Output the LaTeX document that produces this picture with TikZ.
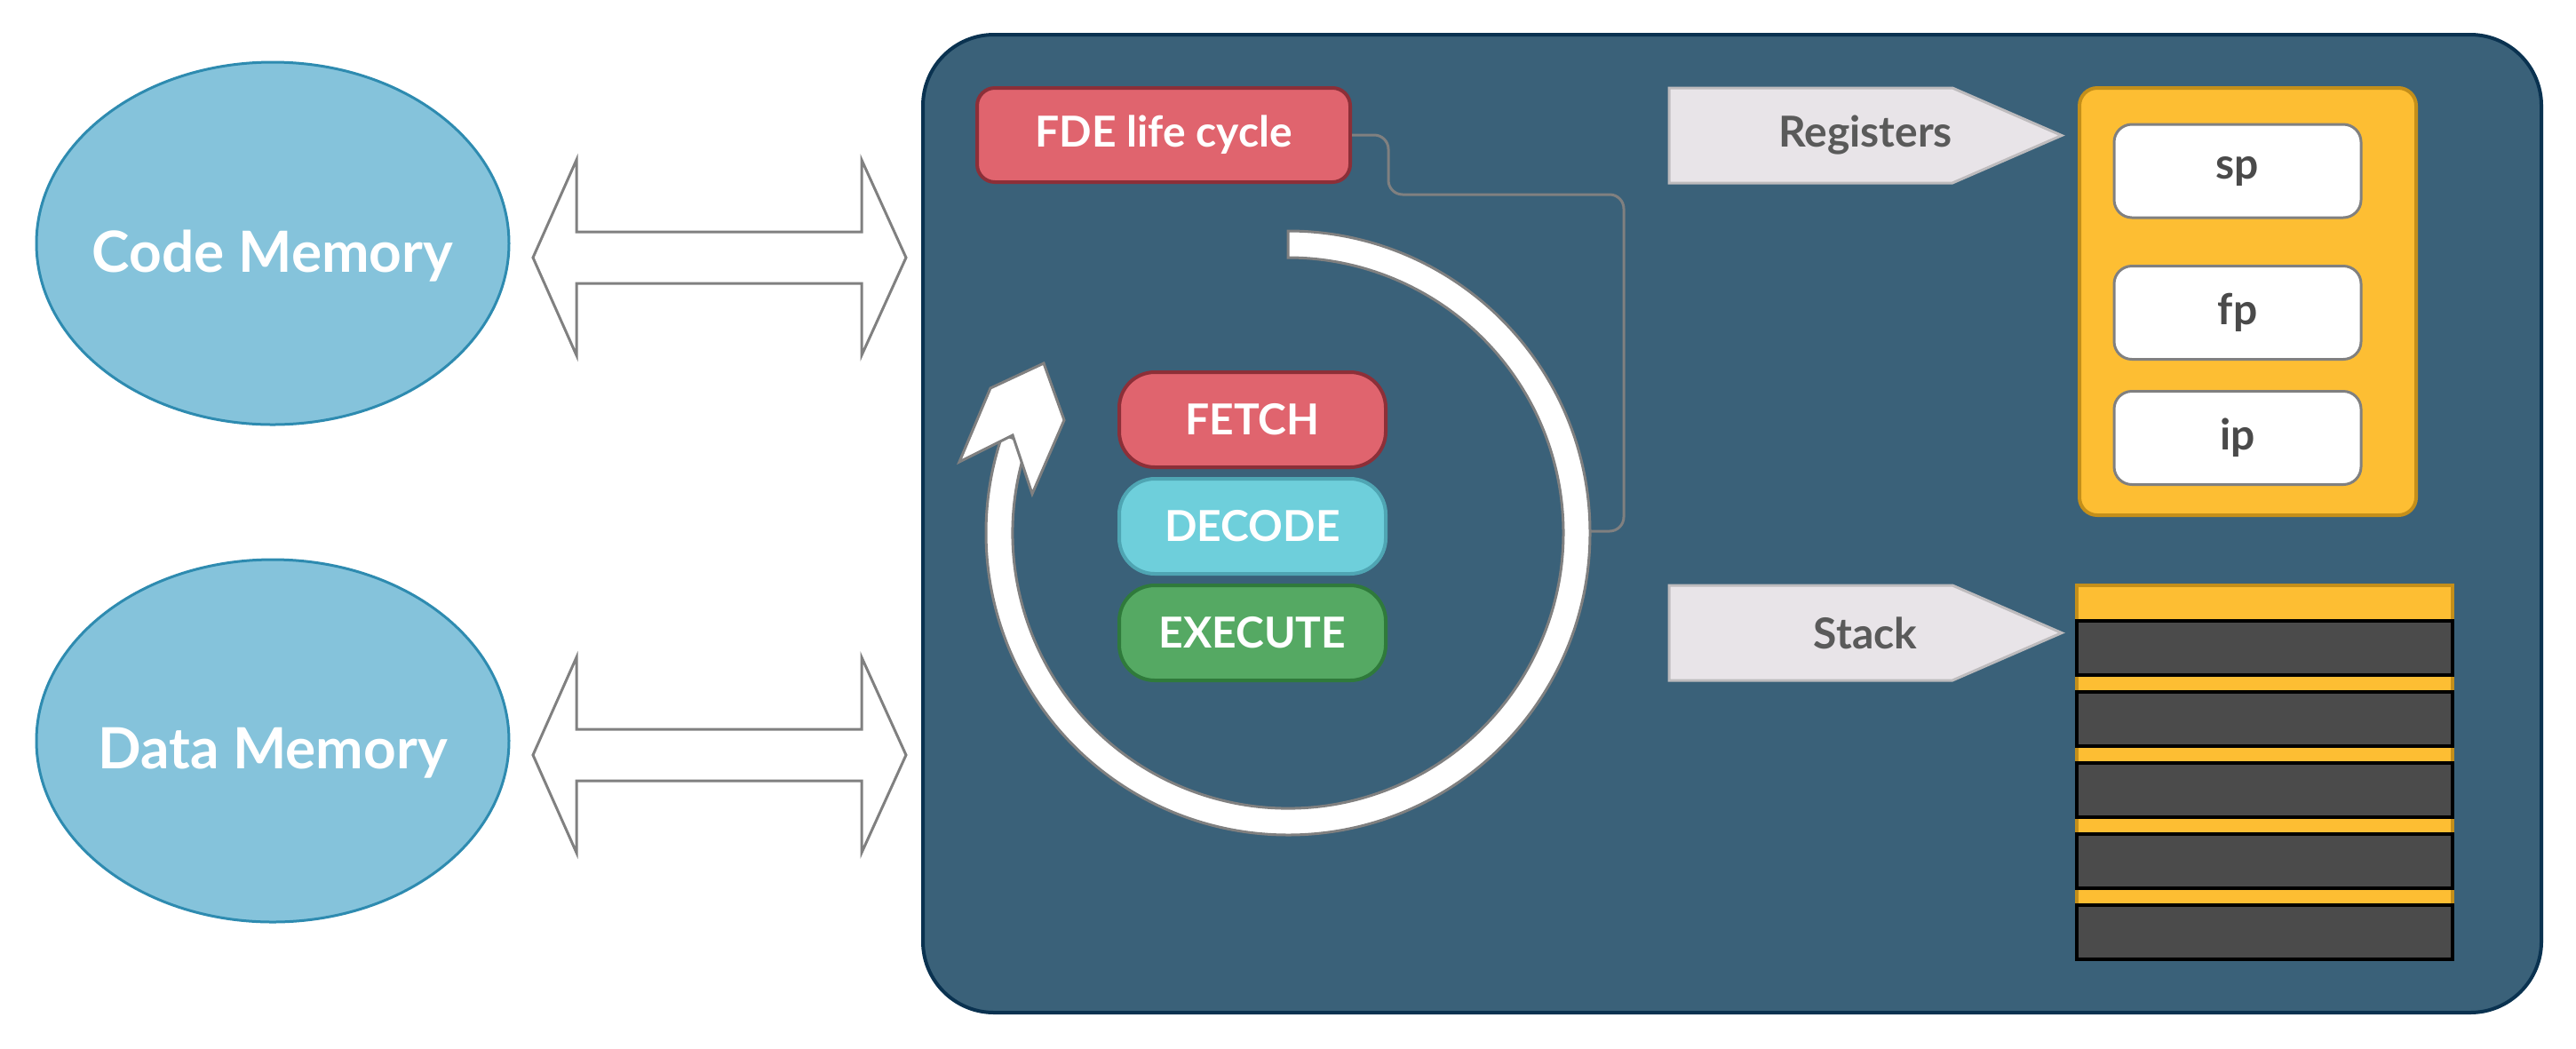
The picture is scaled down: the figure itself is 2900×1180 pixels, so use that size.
\documentclass[tikz,border=0pt]{standalone}
\usepackage{fontspec}
\setmainfont{Lato}
\usetikzlibrary{shapes.geometric}

\definecolor{panelfill}{RGB}{58,97,121}
\definecolor{paneldraw}{RGB}{10,50,80}
\definecolor{memfill}{RGB}{133,195,219}
\definecolor{memdraw}{RGB}{46,139,176}
\definecolor{redfill}{RGB}{224,100,110}
\definecolor{reddraw}{RGB}{140,47,56}
\definecolor{cyanfill}{RGB}{110,207,219}
\definecolor{cyandraw}{RGB}{79,165,179}
\definecolor{greenfill}{RGB}{85,169,99}
\definecolor{greendraw}{RGB}{47,122,59}
\definecolor{tagfill}{RGB}{232,228,232}
\definecolor{tagdraw}{RGB}{189,187,189}
\definecolor{tagtext}{RGB}{90,90,90}
\definecolor{yellowfill}{RGB}{253,190,51}
\definecolor{yellowdraw}{RGB}{196,143,26}
\definecolor{cellfill}{RGB}{75,75,75}
\definecolor{linegray}{RGB}{128,128,128}
\definecolor{regtext}{RGB}{74,74,74}

\begin{document}
\begin{tikzpicture}[x=0.25pt,y=0.25pt,yscale=-1,
  memory/.style={ellipse, draw=memdraw, fill=memfill, line width=0.75, minimum width=133pt, minimum height=102pt, inner sep=0pt},
  memtxt/.style={text=white, font=\fontsize{16}{19}\selectfont\bfseries},
  stage/.style={rectangle, rounded corners=10pt, line width=1, minimum width=75pt, minimum height=26.75pt, inner sep=0pt, text=white, font=\fontsize{12}{14}\selectfont\bfseries},
  reg/.style={rectangle, rounded corners=5pt, draw=linegray, fill=white, line width=0.75, minimum width=69.5pt, minimum height=26.25pt, inner sep=0pt, text=regtext, font=\fontsize{12}{14}\selectfont\bfseries},
  tag/.style={draw=tagdraw, fill=tagfill, line width=0.75},
  tagtxt/.style={text=tagtext, font=\fontsize{12}{14}\selectfont\bfseries},
  link/.style={draw=linegray, line width=0.75, rounded corners=4pt},
  blockarrow/.style={draw=linegray, fill=white, line width=0.75, line join=miter},
  ring/.style={draw=linegray, fill=white, line width=0.75},
  cell/.style={draw=black, fill=cellfill, line width=1}]
\useasboundingbox (0,0) rectangle (2900,1180);

%Shape: Ellipse
\node[memory] (code) at (307,274) {};
\node[memtxt] (codetxt) at ([yshift=3.5pt]code.center) {Code Memory};
%Shape: Ellipse
\node[memory] (data) at (307,834) {};
\node[memtxt] (datatxt) at ([yshift=3.5pt]data.center) {Data Memory};

%Shape: Left Right Arrow
\foreach \yc in {290,850}
  \draw[blockarrow] (600,\yc) -- (649,\yc-110) -- (649,\yc-29) -- (970,\yc-29) -- (970,\yc-110) -- (1020,\yc) -- (970,\yc+110) -- (970,\yc+29) -- (649,\yc+29) -- (649,\yc+110) -- cycle;

%Shape: Rectangle
\draw[draw=paneldraw, fill=panelfill, line width=1, rounded corners=20pt] (1039,39) rectangle (2861,1140);

% Text Node
\node[stage, fill=redfill, draw=reddraw, minimum width=105pt, minimum height=26.5pt, rounded corners=5pt] (fde) at (1310,152) {FDE life cycle};
\coordinate (ringE) at (1790,598);

%Straight Lines
\draw[link] (fde.east) -- ++(41,0) |- (1828,219) |- (ringE);

%Shape: Circular Arrow
\draw[ring] (1450,260) arc[start angle=270, end angle=559, radius=340] -- ([shift={(1450,600)}]559:310) arc[start angle=559, end angle=270, radius=310] -- cycle;
\draw[ring, line join=miter] (1080,520) -- (1115,437) -- (1175,409) -- (1198,473) -- (1162,556) -- (1140,490) -- cycle;

% Text Node
\node[stage, fill=redfill, draw=reddraw] (fetch) at (1410,472.5) {FETCH};
\node[stage, fill=cyanfill, draw=cyandraw] (decode) at (1410,592.5) {DECODE};
\node[stage, fill=greenfill, draw=greendraw] (execute) at (1410,712.5) {EXECUTE};

%Shape: Pentagon
\draw[tag] (1879,99) -- (2198,99) -- (2321,152.5) -- (2198,206) -- (1879,206) -- cycle;
\node[tagtxt] (regs) at (2100,152.5) {Registers};
%Shape: Pentagon
\draw[tag] (1879,659) -- (2198,659) -- (2321,712.5) -- (2198,766) -- (1879,766) -- cycle;
\node[tagtxt] (stack) at (2100,712.5) {Stack};

%Shape: Rectangle
\draw[draw=yellowdraw, fill=yellowfill, line width=1, rounded corners=5pt] (2341,99) rectangle (2720,580);
\node[reg] (sp) at (2519,192.5) {sp};
\node[reg] (fp) at (2519,352) {fp};
\node[reg] (ip) at (2519,493) {ip};

%Shape: Rectangle
\draw[draw=yellowdraw, fill=yellowfill, line width=1] (2338,659) rectangle (2761,1040);
\foreach \k in {0,...,4}
  \draw[cell] (2338,699+80*\k) rectangle (2761,760+80*\k);

\end{tikzpicture}
\end{document}
